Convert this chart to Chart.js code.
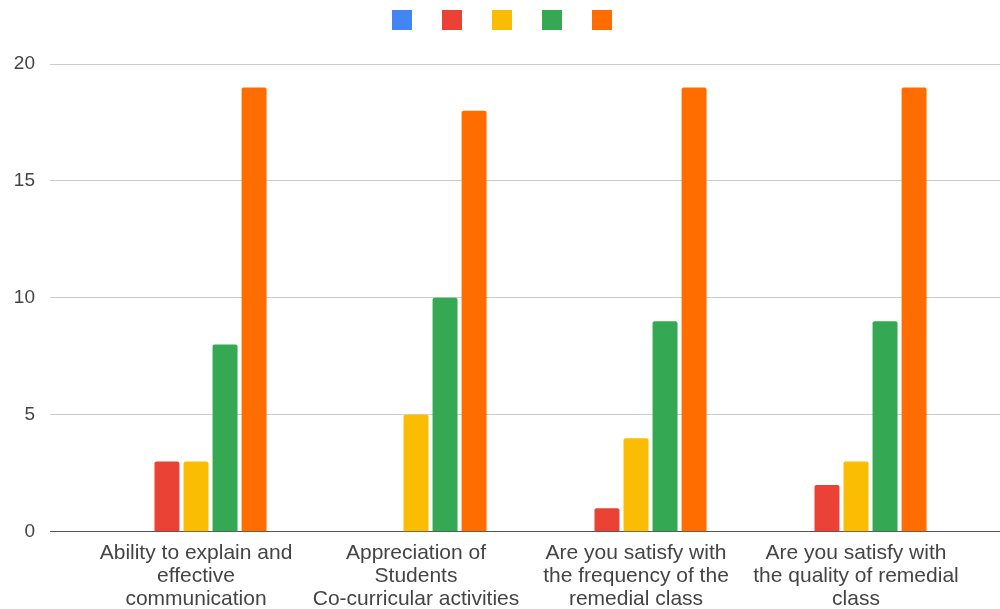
<!DOCTYPE html>
<html>
<head>
<meta charset="utf-8">
<script src="https://cdn.jsdelivr.net/npm/chart.js@4"></script>
<style>
  html, body { margin: 0; padding: 0; background: #fff; }
  #wrap { width: 1000px; height: 609px; position: relative; }
</style>
</head>
<body>
<div id="wrap"><canvas id="chart"></canvas></div>
<script>
// categories (multi-line labels as shown)
const categories = [
    ['Ability to explain and', 'effective', 'communication'],
    ['Appreciation of', 'Students', 'Co-curricular activities'],
    ['Are you satisfy with', 'the frequency of the', 'remedial class'],
    ['Are you satisfy with', 'the quality of remedial', 'class']
];

// five unnamed series
const seriesBlue = [0, 0, 0, 0];
const seriesRed = [3, 0, 1, 2];
const seriesYellow = [3, 5, 4, 3];
const seriesGreen = [8, 10, 9, 9];
const seriesOrange = [19, 18, 19, 19];

const yTicks = [0, 5, 10, 15, 20];

const colors = ['#4285F4', '#EA4335', '#FBBC04', '#34A853', '#FF6D01'];
const allSeries = [seriesBlue, seriesRed, seriesYellow, seriesGreen, seriesOrange];

const fontFamily = '"Liberation Sans", Arial, sans-serif';

const gridColor = function(ctx) {
    return ctx.tick && ctx.tick.value === 0 ? '#555' : '#ccc';
};

document.addEventListener('DOMContentLoaded', function() {
    const ctx = document.getElementById('chart');
    new Chart(ctx, {
        type: 'bar',
        data: {
            labels: categories,
            datasets: allSeries.map((vals, i) => ({
                label: '',
                data: vals,
                backgroundColor: colors[i],
                borderRadius: { topLeft: 2, topRight: 2 },
                borderSkipped: 'bottom',
                categoryPercentage: 0.66,
                barPercentage: 0.86
            }))
        },
        options: {
            responsive: true,
            maintainAspectRatio: false,
            animation: false,
            layout: { padding: { top: -14, bottom: -12, left: 10, right: 0 } },
            plugins: {
                legend: {
                    position: 'top',
                    labels: {
                        boxWidth: 20,
                        boxHeight: 20,
                        padding: 24,
                        font: { size: 12 }
                    }
                },
                // empty spacer between legend and plot
                subtitle: {
                    display: true,
                    text: '',
                    position: 'top',
                    weight: 500,
                    padding: 0,
                    font: { size: 20, lineHeight: 1.2 }
                },
                tooltip: { enabled: false }
            },
            scales: {
                x: {
                    grid: { display: false, drawTicks: false },
                    border: { display: false },
                    ticks: {
                        color: '#444',
                        font: { family: fontFamily, size: 21, lineHeight: 1.1 },
                        padding: 10,
                        maxRotation: 0,
                        autoSkip: false
                    }
                },
                y: {
                    position: 'left',
                    min: 0,
                    max: 20,
                    afterBuildTicks: function(axis) {
                        axis.ticks = yTicks.map(v => ({ value: v }));
                    },
                    grid: {
                        color: gridColor,
                        lineWidth: 1,
                        drawTicks: true,
                        tickLength: 36
                    },
                    border: { display: false },
                    ticks: {
                        color: '#444',
                        font: { family: fontFamily, size: 19 },
                        padding: 15
                    },
                    afterFit: function(axis) { axis.width = 76; }
                },
                yRight: {
                    position: 'right',
                    min: 0,
                    max: 20,
                    afterBuildTicks: function(axis) {
                        axis.ticks = yTicks.map(v => ({ value: v }));
                    },
                    grid: {
                        color: gridColor,
                        drawOnChartArea: false,
                        drawTicks: true,
                        tickLength: 34
                    },
                    border: { display: false },
                    ticks: { display: false },
                    afterFit: function(axis) { axis.width = 34; }
                }
            }
        }
    });
});
</script>
</body>
</html>
